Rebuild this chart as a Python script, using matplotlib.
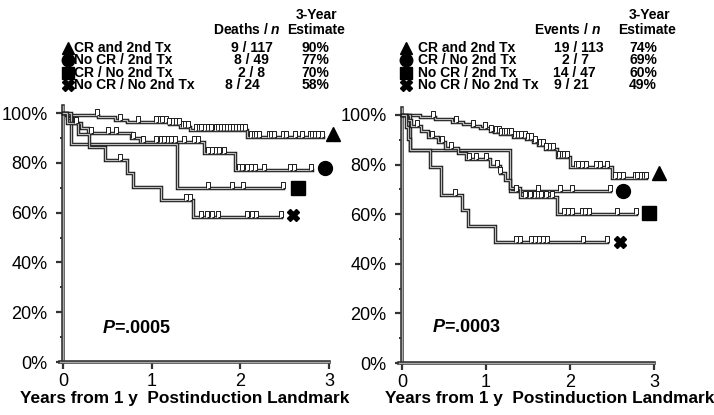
import matplotlib
matplotlib.use("Agg")
import matplotlib.pyplot as plt
import matplotlib.patheffects as pe
from matplotlib.path import Path
from matplotlib import font_manager as fm
import numpy as np

# ---------------- data ----------------
# Left panel (overall survival): step times / survival, end of follow-up, censor times
L_tri_t = [0, 0.03, 0.39, 0.59, 0.72, 1.19, 1.32, 1.43, 2.07]
L_tri_s = [1.0, 0.991, 0.983, 0.974, 0.965, 0.956, 0.944, 0.930, 0.902]
L_tri_end = 2.93
L_tri_cens = [0.38, 0.64, 0.85, 1.05, 1.09, 1.12, 1.16, 1.20, 1.24, 1.27, 1.31, 1.35, 1.38, 1.41,
              1.50, 1.53, 1.56, 1.60, 1.64, 1.67, 1.72, 1.75, 1.78, 1.82, 1.85, 1.88, 1.92, 1.95,
              1.98, 2.02, 2.05, 2.12, 2.15, 2.18, 2.21, 2.32, 2.35, 2.38, 2.48, 2.51, 2.62, 2.70,
              2.78, 2.81, 2.84, 2.88, 2.92]
L_cir_t = [0, 0.05, 0.10, 0.20, 0.28, 0.77, 0.87, 1.59, 1.94]
L_cir_s = [1.0, 0.980, 0.959, 0.939, 0.918, 0.898, 0.885, 0.838, 0.771]
L_cir_end = 2.81
L_cir_cens = [0.15, 0.32, 0.51, 0.60, 0.79, 0.90, 1.05, 1.10, 1.14, 1.18, 1.22, 1.26, 1.36, 1.48,
              1.52, 1.64, 1.68, 1.72, 1.76, 1.82, 1.98, 2.02, 2.07, 2.12, 2.17, 2.27, 2.56, 2.60, 2.80]
L_sq_t = [0, 0.09, 1.29]
L_sq_s = [1.0, 0.875, 0.700]
L_sq_end = 2.48
L_sq_cens = [1.64, 1.91, 2.03, 2.48]
L_x_t = [0, 0.05, 0.17, 0.29, 0.47, 0.72, 0.79, 1.11, 1.47]
L_x_s = [1.0, 0.958, 0.917, 0.865, 0.811, 0.758, 0.704, 0.651, 0.584]
L_x_end = 2.46
L_x_cens = [0.64, 1.39, 1.43, 1.56, 1.62, 1.68, 1.75, 2.08, 2.13, 2.18, 2.46]

# Right panel (event-free survival)
R_tri_t = [0, 0.21, 0.39, 0.59, 0.73, 0.83, 0.93, 1.05, 1.10, 1.17, 1.32, 1.48, 1.56, 1.62, 1.70, 1.84, 2.00, 2.50]
R_tri_s = [1.0, 0.993, 0.984, 0.971, 0.962, 0.956, 0.946, 0.937, 0.930, 0.922, 0.912, 0.902, 0.892,
           0.879, 0.862, 0.832, 0.792, 0.745]
R_tri_end = 2.91
R_tri_cens = [0.37, 0.64, 0.85, 0.99, 1.06, 1.12, 1.15, 1.18, 1.21, 1.24, 1.27, 1.30, 1.35, 1.38,
              1.42, 1.46, 1.50, 1.53, 1.58, 1.64, 1.68, 1.71, 1.76, 1.80, 1.87, 1.90, 1.93, 1.97,
              2.07, 2.10, 2.14, 2.19, 2.31, 2.36, 2.44, 2.54, 2.58, 2.63, 2.77, 2.80, 2.84, 2.88, 2.91]
R_cir_t = [0, 0.09, 1.29]
R_cir_s = [1.0, 0.857, 0.694]
R_cir_end = 2.48
R_cir_cens = [1.36, 1.62, 1.88, 2.02, 2.48]
R_sq_t = [0, 0.06, 0.11, 0.23, 0.31, 0.43, 0.51, 0.67, 0.76, 1.05, 1.17, 1.23, 1.29, 1.40, 1.84]
R_sq_s = [1.0, 0.979, 0.957, 0.935, 0.913, 0.890, 0.868, 0.845, 0.822, 0.795, 0.768, 0.738, 0.705, 0.671, 0.600]
R_sq_end = 2.79
R_sq_cens = [0.18, 0.36, 0.48, 0.58, 0.80, 0.88, 1.00, 1.13, 1.17, 1.46, 1.52, 1.58, 1.62, 1.66, 1.72,
             1.78, 1.93, 1.98, 2.02, 2.14, 2.18, 2.23, 2.56, 2.79]
R_x_t = [0, 0.05, 0.07, 0.09, 0.33, 0.47, 0.71, 0.78, 1.11]
R_x_s = [1.0, 0.952, 0.905, 0.857, 0.792, 0.677, 0.617, 0.552, 0.489]
R_x_end = 2.44
R_x_cens = [0.63, 1.36, 1.40, 1.54, 1.58, 1.63, 1.68, 1.73, 2.16, 2.44]

# end-of-curve symbol positions (time, survival)
L_sym_t = [3.04, 2.95, 2.65, 2.59]
L_sym_s = [0.915, 0.78, 0.70, 0.59]
R_sym_t = [3.06, 2.63, 2.94, 2.60]
R_sym_s = [0.765, 0.694, 0.605, 0.488]
symbols = ['^', 'o', 's', 'X']

# legends
L_labels = ['CR and 2nd Tx', 'No CR / 2nd Tx', 'CR / No 2nd Tx', 'No CR / No 2nd Tx']
L_counts = ['9 / 117', '8 / 49', '2 / 8', '8 / 24']
L_est = ['90%', '77%', '70%', '58%']
R_labels = ['CR and 2nd Tx', 'CR / No 2nd Tx', 'No CR / 2nd Tx', 'No CR / No 2nd Tx']
R_counts = ['19 / 113', '2 / 7', '14 / 47', '9 / 21']
R_est = ['74%', '69%', '60%', '49%']
L_p = '.0005'
R_p = '.0003'

xticks = [0, 1, 2, 3]
yticks = [0, 0.2, 0.4, 0.6, 0.8, 1.0]
yticklabels = ['0%', '20%', '40%', '60%', '80%', '100%']
yminor = [0.1, 0.3, 0.5, 0.7, 0.9]
xlabel = 'Years from 1 y  Postinduction Landmark'

# ---------------- style ----------------
names = {f.name for f in fm.fontManager.ttflist}
BASE = 'Liberation Sans' if 'Liberation Sans' in names else 'DejaVu Sans'
NARROW = 'Liberation Sans Narrow' if 'Liberation Sans Narrow' in names else BASE
plt.rcParams['font.family'] = [BASE, 'DejaVu Sans']
plt.rcParams['mathtext.fontset'] = 'custom'
plt.rcParams['mathtext.rm'] = BASE + ':bold'
plt.rcParams['mathtext.it'] = BASE + ':italic:bold'
plt.rcParams['mathtext.bf'] = BASE + ':bold'

DARK = '#1c1c1c'
INNER = '#bdbdbd'
hollow = [pe.Normal(), pe.Stroke(linewidth=0.9, foreground=INNER)]

cens_marker = Path([(-0.3, 0), (-0.3, 1), (0.3, 1), (0.3, 0), (0, 0)],
                   [Path.MOVETO, Path.LINETO, Path.LINETO, Path.LINETO, Path.LINETO])

fig = plt.figure(figsize=(7.14, 4.15), dpi=100)

ax_L = fig.add_axes([54.1 / 714, (415 - 367) / 415, 292.7 / 714, (367 - 98.1) / 415])
ax_R = fig.add_axes([393.6 / 714, (415 - 368) / 415, 277.2 / 714, (368 - 100.1) / 415])


def step_value(ts, ss, t):
    idx = np.searchsorted(np.asarray(ts), t, side='right') - 1
    return np.asarray(ss)[idx]


def draw_curve(ax, ts, ss, end, cens):
    xs = list(ts) + [end]
    ys = list(ss) + [ss[-1]]
    ax.step(xs, ys, where='post', color=DARK, lw=2.5, solid_joinstyle='miter',
            path_effects=hollow, zorder=3)
    cy = [step_value(ts, ss, c) for c in cens]
    ax.plot(cens, cy, ls='none', marker=cens_marker, ms=9, mfc='white', mec=DARK,
            mew=0.7, zorder=4)


def style_axes(ax):
    ax.set_xlim(-0.1, 3.2)
    ax.set_ylim(-0.02, 1.06)
    for s in ['top', 'right']:
        ax.spines[s].set_visible(False)
    ax.spines['left'].set_position(('data', 0))
    ax.spines['bottom'].set_position(('data', 0))
    ax.spines['left'].set_bounds(0, 1.03)
    ax.spines['bottom'].set_bounds(-0.03, 3)
    for s in ['left', 'bottom']:
        ax.spines[s].set_linewidth(2.6)
        ax.spines[s].set_color('#333333')
        ax.spines[s].set_path_effects([pe.Normal(), pe.Stroke(linewidth=1.0, foreground='#a8a8a8')])
    ax.set_xticks(xticks)
    ax.set_xticklabels([str(x) for x in xticks])
    ax.set_yticks(yticks)
    ax.set_yticklabels(yticklabels)
    ax.set_yticks(yminor, minor=True)
    ax.tick_params(axis='both', which='major', direction='out', length=5, width=1.6,
                   color='#333333', labelsize=13, pad=3)
    ax.tick_params(axis='y', which='major', pad=6)
    ax.tick_params(axis='y', which='minor', direction='out', length=2.5, width=1.4, color='#333333')
    ax.patch.set_visible(False)


draw_curve(ax_L, L_tri_t, L_tri_s, L_tri_end, L_tri_cens)
draw_curve(ax_L, L_cir_t, L_cir_s, L_cir_end, L_cir_cens)
draw_curve(ax_L, L_sq_t, L_sq_s, L_sq_end, L_sq_cens)
draw_curve(ax_L, L_x_t, L_x_s, L_x_end, L_x_cens)
draw_curve(ax_R, R_tri_t, R_tri_s, R_tri_end, R_tri_cens)
draw_curve(ax_R, R_cir_t, R_cir_s, R_cir_end, R_cir_cens)
draw_curve(ax_R, R_sq_t, R_sq_s, R_sq_end, R_sq_cens)
draw_curve(ax_R, R_x_t, R_x_s, R_x_end, R_x_cens)

sym_sizes = [10, 10, 9.5, 9]
for i in range(4):
    ax_L.plot([L_sym_t[i]], [L_sym_s[i]], marker=symbols[i], ms=sym_sizes[i], color='black',
              ls='none', clip_on=False, zorder=5)
    ax_R.plot([R_sym_t[i]], [R_sym_s[i]], marker=symbols[i], ms=sym_sizes[i], color='black',
              ls='none', clip_on=False, zorder=5)

style_axes(ax_L)
style_axes(ax_R)

# ---------------- overlay for legend text (pixel coordinates) ----------------
ov = fig.add_axes([0, 0, 1, 1], zorder=10)
ov.set_xlim(0, 714)
ov.set_ylim(415, 0)
ov.axis('off')

LEG_FS = 10
tk = dict(fontsize=LEG_FS, fontweight='bold', va='center')

def legend(sym_x, text_x, rows, labels, counts, count_x, est, est_x, head, head_x, yr_x, est_hx):
    for i in range(4):
        ov.plot([sym_x], [rows[i]], marker=symbols[i], ms=sym_sizes[i] - 1, color='black', ls='none')
        ov.text(text_x, rows[i], labels[i], ha='left', **tk)
        ov.text(count_x[i], rows[i], counts[i], ha='center', **tk)
        ov.text(est_x, rows[i], est[i], ha='center', **tk)
    ov.text(head_x, 30, head, ha='center', **tk)
    ov.text(yr_x, 15, '3-Year', ha='center', **tk)
    ov.text(est_hx, 30, 'Estimate', ha='center', **tk)

legend(68, 74, [48, 60.3, 72.6, 84.9], L_labels, L_counts, [252, 251, 251.5, 242], L_est, 315,
       'Deaths / $\\mathit{n}$', 247, 316.5, 316.5)
legend(406, 418, [48, 60.3, 72.6, 84.9], R_labels, R_counts, [579, 575, 574, 571], R_est, 643,
       'Events / $\\mathit{n}$', 567, 650, 647)

ov.text(102, 328, '$P$=' + L_p, fontsize=13, fontweight='bold', ha='left', va='center')
ov.text(432, 327, '$P$=' + R_p, fontsize=13, fontweight='bold', ha='left', va='center')

xl_fs = 15 if NARROW != BASE else 12.4
ov.text(185, 398, xlabel, fontsize=xl_fs, fontweight='bold', family=NARROW, ha='center', va='center')
ov.text(550, 398, xlabel, fontsize=xl_fs, fontweight='bold', family=NARROW, ha='center', va='center')

fig.savefig('out.png', dpi=100)
